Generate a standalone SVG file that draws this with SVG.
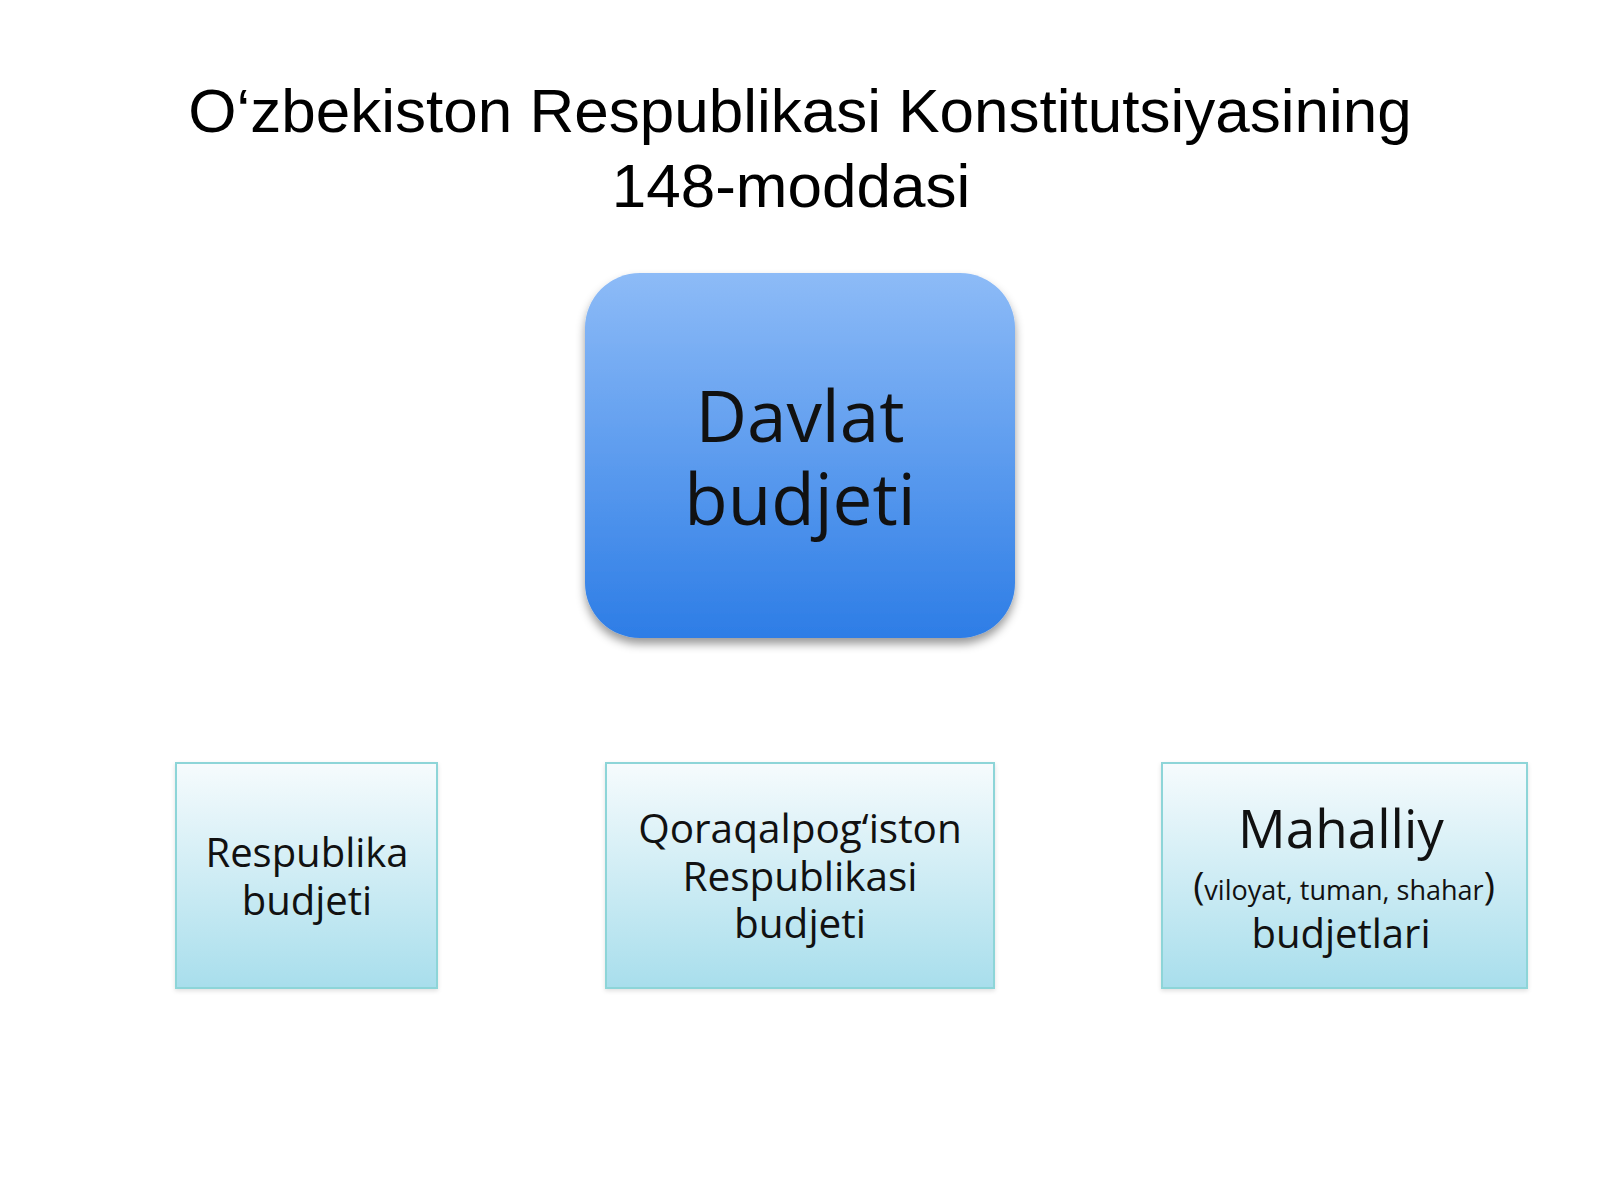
<svg xmlns="http://www.w3.org/2000/svg" width="1600" height="1200" viewBox="0 0 1600 1200">
  <defs>
    <linearGradient id="blueGrad" x1="0" y1="0" x2="0" y2="1">
      <stop offset="0" stop-color="#8dbbf7"/>
      <stop offset="1" stop-color="#2d7de6"/>
    </linearGradient>
    <linearGradient id="lightGrad" x1="0" y1="0" x2="0" y2="1">
      <stop offset="0" stop-color="#f6fbfd"/>
      <stop offset="1" stop-color="#a8deec"/>
    </linearGradient>
    <filter id="shadow" x="-10%" y="-10%" width="120%" height="125%">
      <feDropShadow dx="0" dy="6" stdDeviation="5" flood-color="#000" flood-opacity="0.4"/>
    </filter>
    <filter id="softShadow" x="-5%" y="-5%" width="110%" height="115%">
      <feDropShadow dx="0" dy="2" stdDeviation="2" flood-color="#000" flood-opacity="0.12"/>
    </filter>
  </defs>
  <style>
    .title { font-family: "Liberation Sans", Arial, sans-serif; font-size: 62px; fill: #000; text-anchor: middle; }
    .lbl { font-family: "Open Sans", "Noto Sans", sans-serif; fill: #111; text-anchor: middle; }
    .lightBox { fill: url(#lightGrad); stroke: #8dd5d8; stroke-width: 2; }
  </style>
  <rect width="1600" height="1200" fill="#ffffff"/>

  <g id="title">
    <text class="title" x="800" y="132">O‘zbekiston Respublikasi Konstitutsiyasining</text>
    <text class="title" x="791" y="207">148-moddasi</text>
  </g>

  <g id="connectors"></g>

  <g id="davlat-budjeti">
    <rect x="585" y="273" width="430" height="365" rx="55" ry="55" fill="url(#blueGrad)" filter="url(#shadow)"/>
    <text class="lbl" x="800" y="442" font-size="71">Davlat</text>
    <text class="lbl" x="800" y="525" font-size="71">budjeti</text>
  </g>

  <g id="respublika-budjeti">
    <rect class="lightBox" x="176" y="763" width="261" height="225" filter="url(#softShadow)"/>
    <text class="lbl" x="307" y="867" font-size="40">Respublika</text>
    <text class="lbl" x="307" y="915" font-size="40">budjeti</text>
  </g>

  <g id="qoraqalpogiston-budjeti">
    <rect class="lightBox" x="606" y="763" width="388" height="225" filter="url(#softShadow)"/>
    <text class="lbl" x="800" y="843" font-size="40.5">Qoraqalpog‘iston</text>
    <text class="lbl" x="800" y="891" font-size="40.5">Respublikasi</text>
    <text class="lbl" x="800" y="938" font-size="40.5">budjeti</text>
  </g>

  <g id="mahalliy-budjetlari">
    <rect class="lightBox" x="1162" y="763" width="365" height="225" filter="url(#softShadow)"/>
    <text class="lbl" x="1341" y="848" font-size="53">Mahalliy</text>
    <text class="lbl" x="1344" y="900" font-size="27"><tspan font-size="38">(</tspan>viloyat, tuman, shahar<tspan font-size="38">)</tspan></text>
    <text class="lbl" x="1341" y="948" font-size="40">budjetlari</text>
  </g>
</svg>
